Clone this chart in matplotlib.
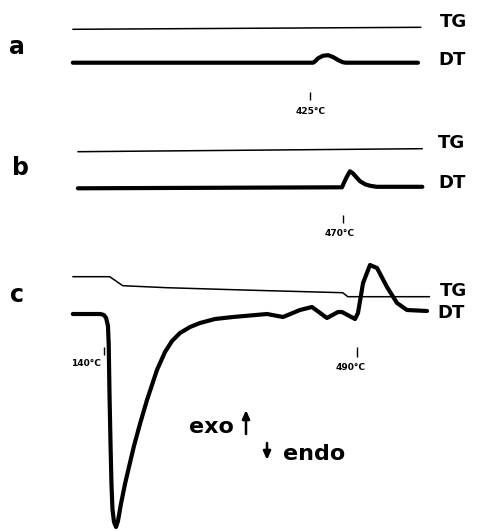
import numpy as np
import matplotlib
matplotlib.use("Agg")
import matplotlib.pyplot as plt

# --- data: temperature (deg C) and signal deviation (arbitrary units) ---
a_tg_T = [97, 578]
a_tg = [0, 2]
a_dt_T = [97, 429, 432, 436, 443, 450, 457, 464, 470, 474, 574]
a_dt = [0, 0, 1.5, 4.5, 7, 7.5, 5.5, 2.5, 0.5, 0, 0]

b_tg_T = [104, 580]
b_tg = [0, 3]
b_dt_T = [104, 469, 472, 476, 480, 484, 489, 494, 501, 508, 517, 580]
b_dt = [0, 1, 6, 12, 17, 15, 11, 7, 4, 2.5, 1.5, 1.5]

c_tg_T = [97, 148, 158, 166, 227, 342, 470, 477, 590]
c_tg = [0, 0, -5, -9, -11, -13.5, -16, -20, -20]
c_dt_T = [97, 135, 140, 143, 145.6, 146.6, 147.7, 149.1, 150.4, 151.8, 153.9,
          156.7, 159.4, 163.5, 169.1, 174.6, 181.5, 189.8, 199.5, 213.3, 224.4,
          234.1, 245.1, 259.0, 272.8, 293.5, 318.4, 365.4, 387.5, 410.9, 427.5,
          448.2, 463.5, 469.0, 487.0, 491.1, 498.1, 507.7, 517.4, 531.2, 545.0,
          558.8, 586.5]
c_dt = [0, 0, -1, -4, -12, -30, -80, -130, -170, -195, -208,
        -213, -207, -190, -170, -153, -132, -110, -86, -56, -38,
        -27, -19, -13, -9, -5, -3, 0, -3, 4, 7,
        -4, 2, 2, -5, 1, 31, 49, 46, 27, 11,
        4, 3]

marks_T = [425, 470, 140, 490]
mark_labels = ["425°C", "470°C", "140°C", "490°C"]

W, H = 478, 531
# pixel x = 2.63 + 0.7236 * T
def t_at(px):
    return (px - 2.63) / 0.7236

fig = plt.figure(figsize=(W / 100, H / 100), dpi=100)
ax = fig.add_axes([0, 0, 1, 1])
ax.set_xlim(t_at(0), t_at(W))
ax.set_ylim(0, H)
ax.axis("off")

thin = dict(color="black", lw=1.1, solid_capstyle="round")
thick = dict(color="black", lw=3.0, solid_capstyle="round", solid_joinstyle="round")

# baselines (y up, pixel units)
ax.plot(a_tg_T, np.array(a_tg) + (H - 29.3), **thin)
ax.plot(a_dt_T, np.array(a_dt) + (H - 62.7), **thick)
ax.plot(b_tg_T, np.array(b_tg) + (H - 151.7), **thin)
ax.plot(b_dt_T, np.array(b_dt) + (H - 188.3), **thick)
ax.plot(c_tg_T, np.array(c_tg) + (H - 276.7), **thin)
ax.plot(c_dt_T, np.array(c_dt) + (H - 314), **thick)

# temperature marks: (tick top row, tick bottom row, label x px, label row)
mark_pos = [(92, 100, 311, 111), (215, 223, 340, 234),
            (347, 355, 86, 363), (347, 357, 351, 367)]
for T, lab, (r0, r1, lx, ly) in zip(marks_T, mark_labels, mark_pos):
    ax.vlines(T, H - r1, H - r0, color="black", lw=1.0)
    ax.text(t_at(lx), H - ly, lab, ha="center", va="center",
            fontsize=6.5, fontweight="bold")

bold = dict(fontweight="bold", ha="center", va="center", color="black")
for lab, px, row in [("a", 17, 47), ("b", 20, 168), ("c", 17, 295)]:
    fig.text(px / W, 1 - row / H, lab, fontsize=17, **bold)
for lab, px, row in [("TG", 453, 22), ("DT", 452, 60), ("TG", 452, 143),
                     ("DT", 452, 183), ("TG", 453, 291), ("DT", 451, 313)]:
    fig.text(px / W, 1 - row / H, lab, fontsize=13, **bold)

fig.text(211 / W, 1 - 427 / H, "exo", fontsize=16, **bold)
fig.text(314 / W, 1 - 454 / H, "endo", fontsize=16, **bold)
arr = dict(arrowstyle="-|>,head_length=0.5,head_width=0.22",
           color="black", lw=1.8, shrinkA=0, shrinkB=0)
ax.annotate("", xy=(t_at(246), H - 410), xytext=(t_at(246), H - 434),
            arrowprops=arr)
ax.annotate("", xy=(t_at(267), H - 460), xytext=(t_at(267), H - 443),
            arrowprops=arr)

fig.savefig("out.png", dpi=100)
